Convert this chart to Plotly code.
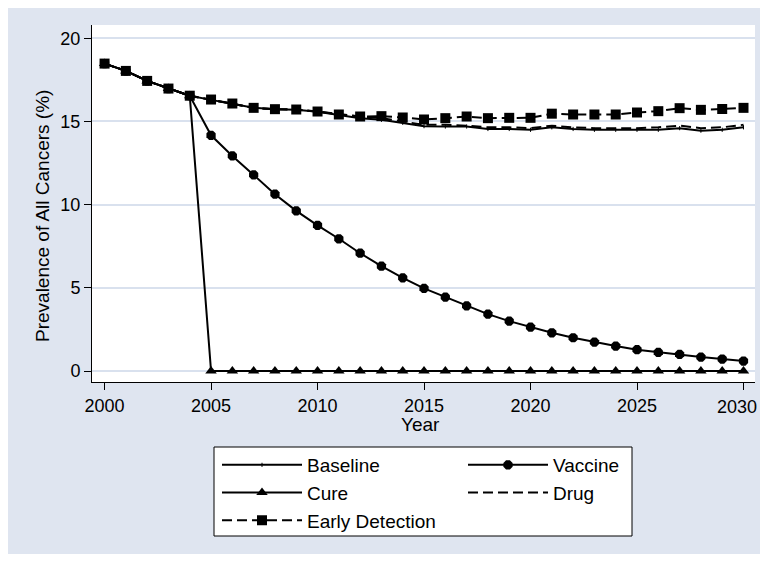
import plotly.graph_objects as go

years = list(range(2000, 2031))

baseline = [18.48, 18.04, 17.44, 16.98, 16.55, 16.30, 16.08, 15.82, 15.74, 15.70,
            15.58, 15.40, 15.20, 15.10, 14.92, 14.72, 14.70, 14.70, 14.55, 14.55,
            14.50, 14.65, 14.55, 14.50, 14.50, 14.50, 14.50, 14.60, 14.45, 14.50, 14.65]
vaccine = [18.48, 18.04, 17.44, 16.98, 16.55, 14.17, 12.93, 11.79, 10.63, 9.63,
           8.76, 7.95, 7.08, 6.30, 5.60, 4.97, 4.44, 3.92, 3.42, 3.00,
           2.64, 2.30, 2.00, 1.74, 1.50, 1.28, 1.12, 1.00, 0.84, 0.72, 0.60]
cure = [18.48, 18.04, 17.44, 16.98, 16.55] + [0.0] * 26
drug = [18.48, 18.04, 17.44, 16.98, 16.55, 16.30, 16.08, 15.82, 15.74, 15.70,
        15.60, 15.45, 15.30, 15.20, 15.00, 14.80, 14.80, 14.75, 14.65, 14.65,
        14.60, 14.75, 14.65, 14.60, 14.60, 14.60, 14.65, 14.75, 14.60, 14.65, 14.80]
early = [18.48, 18.04, 17.44, 16.98, 16.55, 16.32, 16.08, 15.82, 15.74, 15.72,
         15.60, 15.42, 15.30, 15.32, 15.24, 15.12, 15.20, 15.30, 15.20, 15.22,
         15.22, 15.47, 15.42, 15.42, 15.42, 15.54, 15.62, 15.80, 15.70, 15.75, 15.82]

y_ticks = [0, 5, 10, 15, 20]
x_ticks = [2000, 2005, 2010, 2015, 2020, 2025, 2030]

FONT = "Liberation Sans, Arial, sans-serif"
BG = "#dfe5f0"
LW = 2

fig = go.Figure()
fig.add_trace(go.Scatter(x=years, y=baseline, name="Baseline", mode="lines+markers",
                         line=dict(color="black", width=LW),
                         marker=dict(symbol="line-ns", size=3, line=dict(color="black", width=1)),
                         legend="legend", legendrank=1))
fig.add_trace(go.Scatter(x=years, y=vaccine, name="Vaccine", mode="lines+markers",
                         line=dict(color="black", width=LW),
                         marker=dict(symbol="octagon", size=10, color="black"),
                         legend="legend2", legendrank=1))
fig.add_trace(go.Scatter(x=years, y=cure, name="Cure", mode="lines+markers",
                         line=dict(color="black", width=LW),
                         marker=dict(symbol="triangle-up", size=10, color="black"),
                         legend="legend", legendrank=2))
fig.add_trace(go.Scatter(x=years, y=drug, name="Drug", mode="lines",
                         line=dict(color="black", width=LW, dash="10px,5px"),
                         legend="legend2", legendrank=2))
fig.add_trace(go.Scatter(x=years, y=early, name="Early Detection", mode="lines+markers",
                         line=dict(color="black", width=LW, dash="10px,5px"),
                         marker=dict(symbol="square", size=10, color="black"),
                         legend="legend", legendrank=3))

# page has an 8px body margin; figure sized so the page fits the window exactly
OFF = 8
W, H = 752, 546
L, T = 92 - OFF, 25 - OFF
R = W - (755 - OFF)
B = H - (382 - OFF)
pw, ph = W - L - R, H - T - B

def px(xs):
    return (xs - OFF - L) / pw

def py(ys):
    return (H - B - (ys - OFF)) / ph

legend_common = dict(font=dict(family=FONT, size=19, color="black"),
                     bgcolor="rgba(0,0,0,0)", borderwidth=0, itemwidth=80,
                     orientation="v", yanchor="top", xanchor="left",
                     tracegroupgap=0, itemclick=False)

# last tick label is drawn as an annotation, nudged inward so it is not cut at the page edge
tick_text = [str(t) for t in x_ticks[:-1]] + [""]

fig.update_layout(
    width=W, height=H,
    margin=dict(l=L, r=R, t=T, b=B, autoexpand=False),
    paper_bgcolor=BG, plot_bgcolor="white",
    font=dict(family=FONT, size=18, color="black"),
    showlegend=True,
    legend=dict(x=px(217), y=py(446), **legend_common),
    legend2=dict(x=px(463), y=py(446), **legend_common),
    xaxis=dict(range=[1999.41, 2030.54], tickvals=x_ticks, ticktext=tick_text,
               showgrid=False, zeroline=False,
               showline=True, linecolor="black", linewidth=1, ticks="outside", ticklen=7,
               tickcolor="black", automargin=False, ticklabeloverflow="allow",
               tickfont=dict(size=18, family=FONT, color="black")),
    yaxis=dict(range=[-0.66, 20.8], tickvals=y_ticks, showgrid=True, gridcolor="#d9e1ee",
               gridwidth=1.5, zeroline=False, showline=True, linecolor="black", linewidth=1,
               ticks="outside", ticklen=7, tickcolor="black", automargin=False,
               ticklabeloverflow="allow",
               tickfont=dict(size=18, family=FONT, color="black")),
    shapes=[
        dict(type="rect", xref="paper", yref="paper", x0=px(214), x1=px(632), y0=py(536), y1=py(447),
             fillcolor="white", line=dict(color="black", width=1), layer="below"),
    ],
    annotations=[
        dict(text="Prevalence of All Cancers (%)", xref="paper", yref="paper", x=px(42), y=py(216),
             textangle=-90, showarrow=False, xanchor="center", yanchor="middle",
             font=dict(family=FONT, size=19, color="black")),
        dict(text="Year", xref="paper", yref="paper", x=px(420), y=py(424),
             showarrow=False, xanchor="center", yanchor="middle",
             font=dict(family=FONT, size=19, color="black")),
        dict(text=str(x_ticks[-1]), xref="paper", yref="paper", x=px(759), y=py(407),
             showarrow=False, xanchor="right", yanchor="middle",
             font=dict(family=FONT, size=18, color="black")),
    ],
)

fig.write_html("out.html")
